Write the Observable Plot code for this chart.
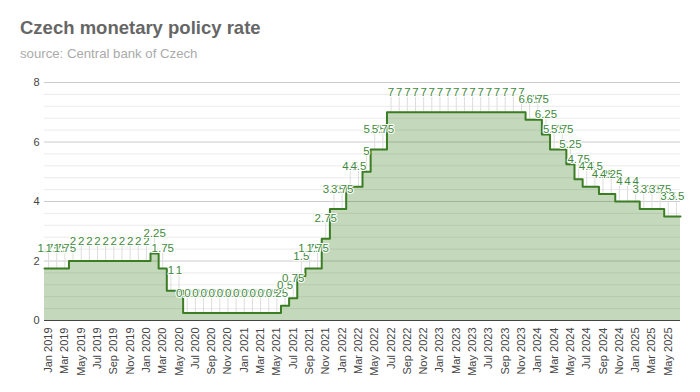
<!DOCTYPE html>
<html>
<head>
<meta charset="utf-8">
<script src="https://cdn.jsdelivr.net/npm/d3@7"></script>
<script src="https://cdn.jsdelivr.net/npm/@observablehq/plot@0.6"></script>
<style>
  html, body { margin: 0; padding: 0; background: #fff; }
  body { width: 700px; height: 392px; overflow: hidden; font-family: "Liberation Sans", Arial, sans-serif; }
  #title { margin: 0; padding: 17px 0 0 20px; font-size: 18.5px; line-height: 22px; font-weight: bold; color: #666; }
  #subtitle { margin: 0; padding: 7px 0 0 20px; font-size: 13.2px; line-height: 16px; color: #aaa; }
  #chart { margin-top: 0; }
  #chart svg { display: block; }
</style>
</head>
<body>
<div id="title">Czech monetary policy rate</div>
<div id="subtitle">source: Central bank of Czech</div>
<div id="chart"></div>
<script>
const months = [
  "Jan 2019","Feb 2019","Mar 2019","Apr 2019","May 2019","Jun 2019","Jul 2019","Aug 2019","Sep 2019","Oct 2019","Nov 2019","Dec 2019",
  "Jan 2020","Feb 2020","Mar 2020","Apr 2020","May 2020","Jun 2020","Jul 2020","Aug 2020","Sep 2020","Oct 2020","Nov 2020","Dec 2020",
  "Jan 2021","Feb 2021","Mar 2021","Apr 2021","May 2021","Jun 2021","Jul 2021","Aug 2021","Sep 2021","Oct 2021","Nov 2021","Dec 2021",
  "Jan 2022","Feb 2022","Mar 2022","Apr 2022","May 2022","Jun 2022","Jul 2022","Aug 2022","Sep 2022","Oct 2022","Nov 2022","Dec 2022",
  "Jan 2023","Feb 2023","Mar 2023","Apr 2023","May 2023","Jun 2023","Jul 2023","Aug 2023","Sep 2023","Oct 2023","Nov 2023","Dec 2023",
  "Jan 2024","Feb 2024","Mar 2024","Apr 2024","May 2024","Jun 2024","Jul 2024","Aug 2024","Sep 2024","Oct 2024","Nov 2024","Dec 2024",
  "Jan 2025","Feb 2025","Mar 2025","Apr 2025","May 2025","Jun 2025"
];
const rates = [
  1.75, 1.75, 1.75, 2, 2, 2, 2, 2, 2, 2, 2, 2,
  2, 2.25, 1.75, 1, 1, 0.25, 0.25, 0.25, 0.25, 0.25, 0.25, 0.25,
  0.25, 0.25, 0.25, 0.25, 0.25, 0.5, 0.75, 1.5, 1.75, 1.75, 2.75, 3.75,
  3.75, 4.5, 4.5, 5, 5.75, 5.75, 7, 7, 7, 7, 7, 7,
  7, 7, 7, 7, 7, 7, 7, 7, 7, 7, 7, 6.75,
  6.75, 6.25, 5.75, 5.75, 5.25, 4.75, 4.5, 4.5, 4.25, 4.25, 4, 4,
  4, 3.75, 3.75, 3.75, 3.5, 3.5
];
const yMajorTicks = [0, 2, 4, 6, 8];
const yMinorTicks = [0.4, 0.8, 1.2, 1.6, 2.4, 2.8, 3.2, 3.6, 4.4, 4.8, 5.2, 5.6, 6.4, 6.8, 7.2, 7.6];

const green = "#3a7d22";
const labelGreen = "#3f8a3c";
const points = rates.map((v, i) => ({i, xc: i + 0.5, v, label: months[i]}));
const stepData = rates.map((v, i) => ({x: i, v})).concat([{x: rates.length, v: rates[rates.length - 1]}]);
const xTicks = points.filter(d => d.i % 2 === 0).map(d => d.xc);

const chart = Plot.plot({
  width: 700,
  height: 330,
  marginTop: 20,
  marginLeft: 44,
  marginRight: 20,
  marginBottom: 72,
  style: {fontFamily: "'Liberation Sans', Arial, sans-serif", fontSize: "11px", color: "#444", background: "#fff"},
  x: {
    domain: [0, rates.length],
    ticks: xTicks,
    tickFormat: t => months[Math.floor(t)],
    tickRotate: -90,
    tickSize: 0,
    tickPadding: 7,
    label: null
  },
  y: {
    domain: [0, 8],
    ticks: yMajorTicks,
    tickSize: 0,
    tickPadding: 5,
    label: null
  },
  marks: [
    Plot.ruleY(yMinorTicks, {stroke: "#ebebeb", strokeWidth: 1}),
    Plot.ruleY(yMajorTicks, {stroke: "#cccccc", strokeWidth: 1}),
    Plot.areaY(stepData, {x: "x", y: "v", curve: "step-after", fill: green, fillOpacity: 0.3}),
    Plot.ruleX(points, {x: "xc", y1: "v", y2: "v", insetTop: -17, stroke: "#dddddd", strokeWidth: 1}),
    Plot.lineY(stepData, {x: "x", y: "v", curve: "step-after", stroke: green, strokeWidth: 2}),
    Plot.ruleY([0], {stroke: "#444", strokeWidth: 1}),
    Plot.text(points, {
      x: "xc", y: "v", text: d => String(d.v), dy: -20,
      fill: labelGreen, stroke: "white", strokeWidth: 2, paintOrder: "stroke", fontSize: 11.5,
      fontFamily: "'Liberation Sans', Arial, sans-serif"
    })
  ]
});
document.getElementById("chart").appendChild(chart);
</script>
</body>
</html>
